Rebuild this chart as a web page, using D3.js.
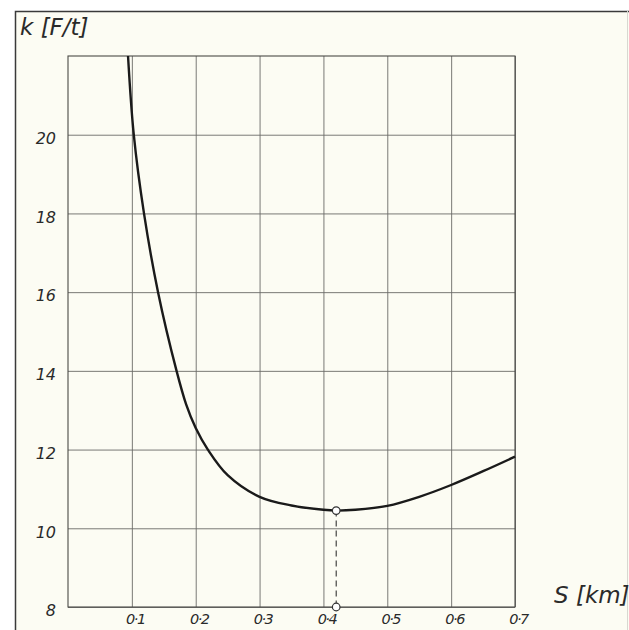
<!DOCTYPE html>
<html>

<head>
    <style>
        body {
            margin: 0;
            background: #ffffff;
        }

        text {
            font-family: "DejaVu Sans", sans-serif;
            font-style: italic;
            fill: #2a2a2a;
        }
    </style>
</head>

<body>
    <div id="chart"></div>
    <script src="https://d3js.org/d3.v7.min.js"></script>
    <script>

        // curve
        const sValues = [0.094, 0.103, 0.119, 0.141, 0.17, 0.185, 0.2, 0.219, 0.25, 0.3, 0.35, 0.4, 0.42, 0.45, 0.5, 0.55, 0.6, 0.65, 0.7]
        const kValues = [22, 20, 18, 16, 14, 13.15, 12.55, 12, 11.35, 10.8, 10.58, 10.47, 10.45, 10.47, 10.57, 10.8, 11.1, 11.45, 11.82]

        // minimum point
        const minS = 0.42
        const minK = 10.45

        const xTicks = [0.1, 0.2, 0.3, 0.4, 0.5, 0.6, 0.7]
        const xTickLabels = ["0·1", "0·2", "0·3", "0·4", "0·5", "0·6", "0·7"]
        const yTicks = [8, 10, 12, 14, 16, 18, 20]
        const yTickLabels = ["8", "10", "12", "14", "16", "18", "20"]

        const width = 629
        const height = 630

        let svg = d3.select("#chart")
            .append("svg")
            .attr("width", width)
            .attr("height", height)

        // paper background and scan border
        svg.append("rect")
            .attr("x", 15).attr("y", 11)
            .attr("width", width - 15).attr("height", height - 11)
            .attr("fill", "#fcfcf3")
        svg.append("path")
            .attr("d", "M15.5," + height + "V11.5H" + width)
            .attr("fill", "none")
            .attr("stroke", "#3a3a3a")
            .attr("stroke-width", 1.5)
        svg.append("line")
            .attr("x1", 627.5).attr("x2", 627.5)
            .attr("y1", 11).attr("y2", height)
            .attr("stroke", "#d8d8d0")

        let x = d3.scaleLinear().domain([0, 0.7]).range([68, 515])
        let y = d3.scaleLinear().domain([8, 22]).range([607, 56])

        const gridColor = "#6a6a66"

        let xAxis = svg.append("g")
            .attr("transform", "translate(0," + y(8) + ")")
            .call(d3.axisBottom(x)
                .tickValues(xTicks)
                .tickSize(-(y(8) - y(22)))
                .tickPadding(7)
                .tickFormat((d, i) => xTickLabels[i]))
        xAxis.select(".domain").remove()
        xAxis.selectAll("line").attr("stroke", gridColor).attr("stroke-width", 0.9)
        xAxis.selectAll("text").attr("font-size", 14.5).attr("fill", "#2a2a2a")
            .attr("font-family", null)
            .attr("letter-spacing", -1.5)
            .attr("dx", 3)

        let yAxis = svg.append("g")
            .attr("transform", "translate(" + x(0) + ",0)")
            .call(d3.axisLeft(y)
                .tickValues(yTicks)
                .tickSize(-(x(0.7) - x(0)))
                .tickPadding(12)
                .tickFormat((d, i) => yTickLabels[i]))
        yAxis.select(".domain").remove()
        yAxis.selectAll("line").attr("stroke", gridColor).attr("stroke-width", 0.9)
        yAxis.selectAll("text").attr("font-size", 16).attr("fill", "#2a2a2a")
            .attr("font-family", null)
            .attr("dy", "0.55em")

        // plot frame
        svg.append("rect")
            .attr("x", x(0)).attr("y", y(22))
            .attr("width", x(0.7) - x(0)).attr("height", y(8) - y(22))
            .attr("fill", "none")
            .attr("stroke", "#4a4a46")
            .attr("stroke-width", 1.1)

        // k(S) curve
        let line = d3.line()
            .x((d, i) => x(sValues[i]))
            .y((d, i) => y(kValues[i]))
            .curve(d3.curveCatmullRom.alpha(0.5))

        svg.append("path")
            .datum(sValues)
            .attr("d", line)
            .attr("fill", "none")
            .attr("stroke", "#1a1a1a")
            .attr("stroke-width", 2.4)

        // dashed drop line to the minimum
        svg.append("line")
            .attr("x1", x(minS)).attr("x2", x(minS))
            .attr("y1", y(minK)).attr("y2", y(8))
            .attr("stroke", "#333")
            .attr("stroke-width", 1.1)
            .attr("stroke-dasharray", "6,4")

        svg.selectAll(".minpt")
            .data([minK, 8])
            .enter().append("circle")
            .attr("class", "minpt")
            .attr("cx", x(minS))
            .attr("cy", d => y(d))
            .attr("r", 3.8)
            .attr("fill", "#fff")
            .attr("stroke", "#333")
            .attr("stroke-width", 1.2)

        // axis titles
        svg.append("text")
            .attr("x", 20).attr("y", 35)
            .attr("font-size", 23)
            .text("k [F/t]")

        svg.append("text")
            .attr("x", 554).attr("y", 603)
            .attr("font-size", 23)
            .text("S [km]")

    </script>
</body>

</html>
